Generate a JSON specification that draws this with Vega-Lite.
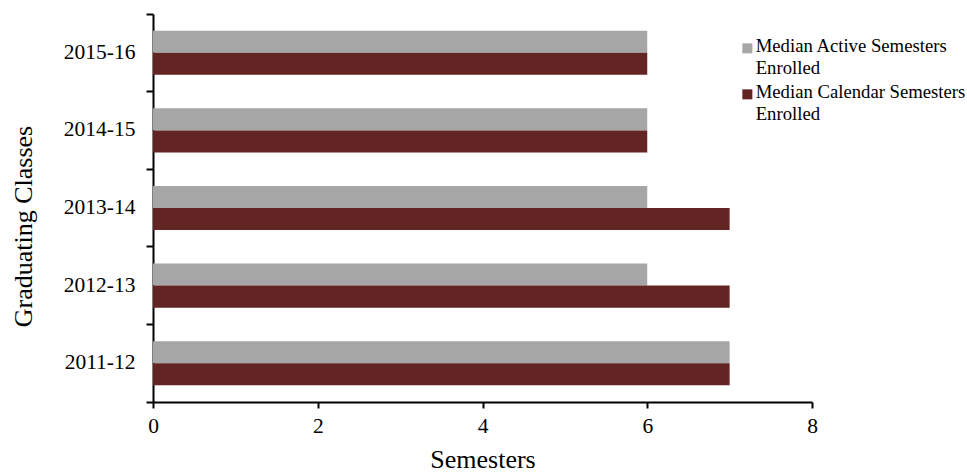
{
  "$schema": "https://vega.github.io/schema/vega-lite/v6.json",
  "width": 659,
  "height": 388,
  "autosize": {"type": "none"},
  "padding": {"left": 153, "top": 14, "right": 155, "bottom": 72},
  "background": "white",
  "config": {
    "view": {"stroke": null},
    "font": "Liberation Serif"
  },
  "data": {
    "values": [
      {"year": "2011-12", "series": "Median Active Semesters Enrolled", "value": 7},
      {"year": "2011-12", "series": "Median Calendar Semesters Enrolled", "value": 7},
      {"year": "2012-13", "series": "Median Active Semesters Enrolled", "value": 6},
      {"year": "2012-13", "series": "Median Calendar Semesters Enrolled", "value": 7},
      {"year": "2013-14", "series": "Median Active Semesters Enrolled", "value": 6},
      {"year": "2013-14", "series": "Median Calendar Semesters Enrolled", "value": 7},
      {"year": "2014-15", "series": "Median Active Semesters Enrolled", "value": 6},
      {"year": "2014-15", "series": "Median Calendar Semesters Enrolled", "value": 6},
      {"year": "2015-16", "series": "Median Active Semesters Enrolled", "value": 6},
      {"year": "2015-16", "series": "Median Calendar Semesters Enrolled", "value": 6}
    ]
  },
  "mark": {"type": "bar"},
  "encoding": {
    "y": {
      "field": "year",
      "type": "nominal",
      "sort": ["2015-16", "2014-15", "2013-14", "2012-13", "2011-12"],
      "scale": {"paddingInner": 0, "paddingOuter": 0},
      "axis": {
        "title": "Graduating Classes",
        "titleFont": "Liberation Serif",
        "titleFontSize": 26,
        "titleFontWeight": "normal",
        "titleColor": "black",
        "titleX": -130,
        "titleY": 212,
        "titleBaseline": "middle",
        "titleAngle": -90,
        "labelFont": "Liberation Serif",
        "labelFontSize": 21.5,
        "labelColor": "black",
        "labelPadding": 11,
        "labelBaseline": "middle",
        "tickSize": 7,
        "tickWidth": 2,
        "tickColor": "black",
        "domainColor": "black",
        "domainWidth": 2,
        "bandPosition": 1,
        "tickExtra": true,
        "grid": false
      }
    },
    "yOffset": {
      "field": "series",
      "type": "nominal",
      "sort": ["Median Active Semesters Enrolled", "Median Calendar Semesters Enrolled"],
      "scale": {"paddingInner": 0, "paddingOuter": 0.761}
    },
    "x": {
      "field": "value",
      "type": "quantitative",
      "scale": {"domain": [0, 8]},
      "axis": {
        "title": "Semesters",
        "values": [0, 2, 4, 6, 8],
        "titleFont": "Liberation Serif",
        "titleFontSize": 26,
        "titleFontWeight": "normal",
        "titleColor": "black",
        "titleY": 65,
        "titleBaseline": "alphabetic",
        "labelFont": "Liberation Serif",
        "labelFontSize": 21.5,
        "labelColor": "black",
        "labelPadding": 7,
        "labelFlush": false,
        "tickSize": 6,
        "tickWidth": 2,
        "tickColor": "black",
        "domainColor": "black",
        "domainWidth": 2,
        "grid": false
      }
    },
    "color": {
      "field": "series",
      "type": "nominal",
      "scale": {
        "domain": ["Median Active Semesters Enrolled", "Median Calendar Semesters Enrolled"],
        "range": ["#A6A6A6", "#632523"]
      },
      "legend": {
        "title": null,
        "orient": "none",
        "legendX": 585,
        "legendY": 25,
        "symbolType": "square",
        "symbolSize": 100,
        "symbolStrokeWidth": 0,
        "labelFont": "Liberation Serif",
        "labelFontSize": 18.7,
        "labelColor": "black",
        "labelLimit": 300,
        "labelOffset": -1,
        "labelBaseline": "top",
        "rowPadding": 4,
        "padding": 0,
        "labelExpr": "datum.label == 'Median Active Semesters Enrolled' ? ['Median Active Semesters', 'Enrolled'] : ['Median Calendar Semesters', 'Enrolled']",
        "encode": {"labels": {"update": {"dy": {"value": -11}, "lineHeight": {"value": 22}}}}
      }
    }
  }
}
